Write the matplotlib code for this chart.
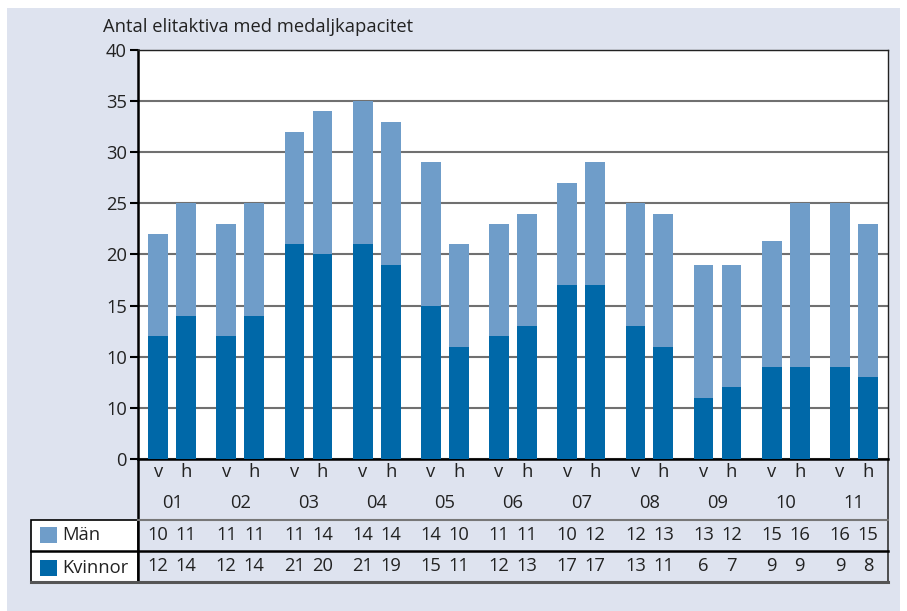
import numpy as np
import matplotlib
matplotlib.use("Agg")
import matplotlib.pyplot as plt
from matplotlib.patches import Rectangle

plt.rcParams['font.family'] = ['Open Sans', 'DejaVu Sans']

# data (table values)
years = ["01", "02", "03", "04", "05", "06", "07", "08", "09", "10", "11"]
halves = ["v", "h"]
kvinnor_v = [12, 12, 21, 21, 15, 12, 17, 13, 6, 9, 9]
kvinnor_h = [14, 14, 20, 19, 11, 13, 17, 11, 7, 9, 8]
man_v = [10, 11, 11, 14, 14, 11, 10, 12, 13, 15, 16]
man_h = [11, 11, 14, 14, 10, 11, 12, 13, 12, 16, 15]
# Män v as drawn in the bars (the 10 v bar is shorter than its table value)
man_v_bar = [10, 11, 11, 14, 14, 11, 10, 12, 13, 12.3, 16]
yticks = [0, 5, 10, 15, 20, 25, 30, 35, 40]
ytick_labels = ["0", "10", "10", "15", "20", "25", "30", "35", "40"]

dark = "#0068a8"
light = "#6f9dc9"
bg = "#dee3ef"
txt = "#222222"
fs = 13.2

W, H = 907, 611
fig = plt.figure(figsize=(W / 100, H / 100), dpi=100)
fig.patch.set_facecolor("white")
# light panel behind everything
fig.patches.append(Rectangle((7 / W, 0), 893 / W, 1 - 8 / H, transform=fig.transFigure,
                             facecolor=bg, edgecolor="none", zorder=-5))

ax = fig.add_axes([138 / W, 1 - 459 / H, 750 / W, 409 / H])
ax.set_facecolor("white")

x = np.arange(len(years))
w = 0.29
off = 0.205
ax.bar(x - off, kvinnor_v, w, color=dark, zorder=3)
ax.bar(x - off, man_v_bar, w, bottom=kvinnor_v, color=light, zorder=3)
ax.bar(x + off, kvinnor_h, w, color=dark, zorder=3)
ax.bar(x + off, man_h, w, bottom=kvinnor_h, color=light, zorder=3)

ax.set_xlim(-0.5, len(years) - 0.5)
ax.set_ylim(0, 40)
ax.set_yticks(yticks)
ax.set_yticklabels(ytick_labels, fontsize=fs, color=txt)
ax.set_xticks([])
ax.yaxis.grid(True, color="#707070", linewidth=1.5, zorder=1)
ax.tick_params(axis="y", length=6, width=1.5, color="black", pad=2)
for s in ["left", "bottom"]:
    ax.spines[s].set_linewidth(1.8)
    ax.spines[s].set_color("black")
for s in ["top", "right"]:
    ax.spines[s].set_linewidth(1.0)
    ax.spines[s].set_color(txt)

fig.text(103 / W, 1 - 27 / H, "Antal elitaktiva med medaljkapacitet", fontsize=fs,
         color=txt, va="center", ha="left")

# table under the chart
def ay(py):
    return (459 - py) / 409

tr = ax.get_xaxis_transform()
for i in range(len(years)):
    for j, (h, mv, kv) in enumerate(zip(halves, [man_v[i], man_h[i]], [kvinnor_v[i], kvinnor_h[i]])):
        xp = x[i] + (2 * j - 1) * off
        ax.text(xp, ay(472), h, transform=tr, ha="center", va="center", fontsize=fs,
                color=txt, clip_on=False)
        ax.text(xp, ay(535), str(mv), transform=tr, ha="center", va="center", fontsize=fs,
                color=txt, clip_on=False)
        ax.text(xp, ay(566), str(kv), transform=tr, ha="center", va="center", fontsize=fs,
                color=txt, clip_on=False)
    ax.text(x[i], ay(503), years[i], transform=tr, ha="center", va="center", fontsize=fs,
            color=txt, clip_on=False)

lx0 = (31 - 138) / 750
ta = ax.transAxes
# legend cell
ax.add_patch(Rectangle((lx0, ay(582)), -lx0, ay(520) - ay(582), transform=ta, facecolor="white",
                       edgecolor="black", linewidth=1.2, clip_on=False))
ax.plot([0, 0], [0, ay(582)], transform=ta, color="black", lw=1.8, clip_on=False)
ax.plot([1, 1], [0, ay(582)], transform=ta, color="#333333", lw=1.2, clip_on=False)
ax.plot([0, 1], [ay(520), ay(520)], transform=ta, color="#777777", lw=1.5, clip_on=False)
ax.plot([lx0, 1], [ay(551), ay(551)], transform=ta, color="black", lw=1.8, clip_on=False)
ax.plot([lx0, 1], [ay(582), ay(582)], transform=ta, color="#555555", lw=2.2, clip_on=False)

for py, col, lab in [(535, light, "Män"), (568, dark, "Kvinnor")]:
    ax.add_patch(Rectangle(((40 - 138) / 750, ay(py + 8)), 17 / 750, 16 / 409, transform=ta,
                           facecolor=col, edgecolor="none", clip_on=False))
    ax.text((62 - 138) / 750, ay(py), lab, transform=ta, ha="left", va="center", fontsize=fs,
            color=txt, clip_on=False)

fig.savefig("out.png", dpi=100, facecolor=fig.get_facecolor())
